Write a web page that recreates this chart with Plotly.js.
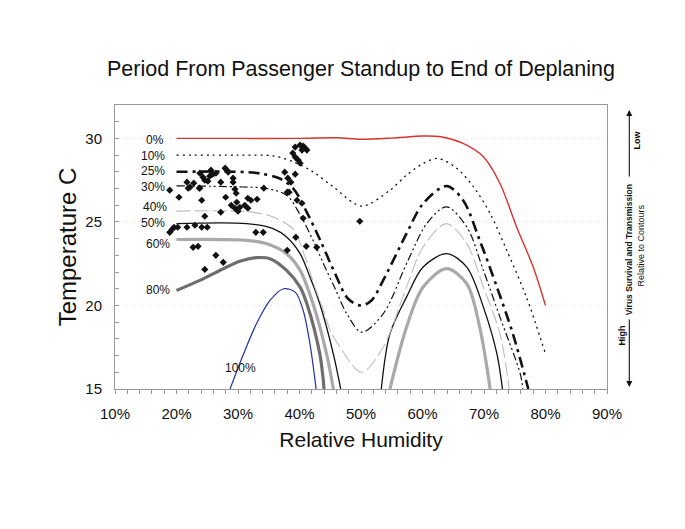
<!DOCTYPE html>
<html>
<head>
<meta charset="utf-8">
<script src="https://cdn.plot.ly/plotly-3.0.1.min.js"></script>
<style>html,body{margin:0;padding:0;background:#fff;}#chart{width:685px;height:529px;}</style>
</head>
<body>
<div id="chart"></div>
<script>
// Contour levels
var levels = ["0%", "10%", "25%", "30%", "40%", "50%", "60%", "80%", "100%"];

// Contour curves (relative humidity %, temperature C)
var rh0   = [20, 30, 40, 46, 50, 55, 60, 63, 66.6, 69.9, 72.6, 75.3, 78, 80];
var t0    = [30.0, 30.0, 30.0, 30.04, 29.95, 30.02, 30.14, 30.1, 29.7, 28.9, 27.3, 24.7, 22.3, 20.0];

var rh10  = [20, 30, 35.7, 39, 42.2, 45.5, 50.1, 54.7, 57.4, 60.1, 62.5, 65.6, 68.3, 71, 73.7, 76.9, 80];
var t10   = [29.0, 29.0, 28.95, 28.6, 28.0, 27.1, 25.95, 26.9, 27.8, 28.5, 28.8, 28.2, 27.1, 25.5, 23.3, 20.5, 17.1];

var rh25  = [20, 30, 33.6, 36.8, 39, 41.3, 43.5, 45.8, 47.9, 50, 51.7, 53.6, 57.4, 60.1, 63.9, 66.6, 69.3, 72.1, 74.7, 77.2];
var t25   = [28.0, 28.0, 27.9, 27.6, 27.0, 25.5, 23.8, 21.9, 20.4, 20.0, 20.3, 21.5, 24.3, 26.1, 27.15, 26.3, 23.9, 21.1, 18.3, 15.0];

var rh30  = [20, 30, 34.7, 37.9, 40, 42.2, 43.9, 45.8, 47.7, 50.1, 53.6, 57.4, 60.7, 63.9, 67.2, 69.9, 72.6, 75.9, 76.3];
var t30   = [27.16, 27.1, 27.0, 26.6, 25.5, 23.9, 22.5, 21.0, 19.5, 18.4, 19.5, 22.5, 24.9, 25.9, 24.7, 22.1, 19.3, 15.9, 15.0];

var rh40  = [20, 32, 35.7, 39, 40.9, 42.5, 43.9, 45, 46.6, 50.1, 53.6, 57.4, 60.1, 63.9, 67.2, 69.9, 72.6, 74.1];
var t40   = [25.65, 25.6, 25.3, 24.55, 22.9, 21.1, 19.7, 18.5, 17.5, 16.0, 17.5, 21.1, 23.5, 24.9, 23.7, 21.1, 18.3, 15.0];

var rh50  = [20, 31.4, 35.7, 37.9, 40.1, 41.7, 43.3, 45.5, 46.7];
var t50   = [24.9, 24.9, 24.6, 24.1, 23.1, 21.7, 20.1, 17.1, 15.0];
var rh50b = [53.3, 54.7, 57.4, 60.1, 63.9, 67.2, 69.9, 72.1, 73.0];
var t50b  = [15.0, 18.3, 20.5, 22.3, 23.1, 22.3, 19.9, 17.1, 15.0];

var rh60  = [20, 31.4, 34.7, 37.9, 40.1, 42.2, 44.4, 45.5];
var t60   = [23.95, 23.9, 23.7, 23.1, 22.1, 20.1, 17.1, 15.0];
var rh60b = [54.7, 57.4, 60.1, 63.9, 67.2, 69.3, 71.0];
var t60b  = [15.0, 18.7, 21.1, 22.2, 21.3, 18.7, 15.0];

var rh80  = [20, 23.8, 27.6, 30.3, 33.0, 35.2, 37.9, 40.1, 41.2, 43.3, 44.0];
var t80   = [20.9, 21.5, 22.2, 22.65, 22.86, 22.8, 22.1, 21.1, 20.1, 17.1, 15.0];

var rh100 = [28.7, 30.9, 33.0, 35.2, 37.4, 39.3, 40.6, 41.7, 42.7];
var t100  = [15.0, 17.1, 18.9, 20.3, 21.0, 20.8, 19.7, 17.7, 15.0];

// Observed points (relative humidity %, temperature C)
var obsRH = [18.9, 20.4, 21.7, 21.9, 22.8, 23.7, 23.8, 24.1, 24.3, 24.6, 25.1, 25.4, 25.9, 26.4, 24.6, 27.2,
             27.9, 28.2, 28.4, 29.2, 29.2, 29.5, 29.7, 28.0, 28.9, 29.8, 29.5, 30.0, 30.3, 31.1, 31.6, 32.1,
             33.1, 31.6, 27.2, 18.9, 19.3, 19.6, 20.2, 21.7, 23.0, 24.1, 25.0, 22.7, 23.5, 26.4, 27.6, 24.6,
             32.9, 34.1, 34.2, 37.6, 38.1, 38.6, 39.3, 38.0, 38.3, 38.9, 39.3, 39.8, 40.1, 39.3, 40.1, 40.6,
             40.9, 41.2, 40.4, 39.6, 40.4, 40.6, 39.4, 41.1, 42.8, 38.0, 49.8, 22.2, 25.6, 23.8];
var obsT  = [26.9, 26.48, 27.38, 27.02, 27.32, 27.02, 27.92, 26.3, 27.68, 27.5, 27.44, 27.74, 27.86, 27.92, 25.34, 27.38,
             28.22, 28.1, 27.98, 27.62, 27.38, 26.96, 26.72, 26.48, 26.0, 26.18, 25.82, 25.64, 25.88, 26.0, 26.42, 26.3,
             26.36, 25.82, 25.58, 24.38, 24.56, 24.68, 24.68, 24.68, 24.8, 24.68, 24.68, 23.48, 23.54, 23.0, 22.58, 22.16,
             24.38, 24.38, 27.02, 27.98, 27.62, 27.38, 27.86, 26.78, 26.78, 29.12, 28.88, 28.7, 28.52, 29.48, 29.6, 29.54,
             29.42, 29.3, 29.3, 26.3, 26.12, 25.22, 24.08, 23.54, 23.48, 23.3, 25.04, 27.08, 28.1, 27.02];

function curve(x, y, color, width, dash) {
  return {x: x, y: y, type: 'scatter', mode: 'lines', hoverinfo: 'skip',
          line: {color: color, width: width, dash: dash, shape: 'spline', smoothing: 0.9}};
}

var traces = [
  curve(rh80, t80, '#6e6e6e', 3.2, 'solid'),
  curve(rh60, t60, '#a9a9a9', 3.2, 'solid'),
  curve(rh60b, t60b, '#a9a9a9', 3.2, 'solid'),
  curve(rh50, t50, '#111111', 1.3, 'solid'),
  curve(rh50b, t50b, '#111111', 1.3, 'solid'),
  curve(rh40, t40, '#bdbdbd', 1.1, '14px,4px'),
  curve(rh30, t30, '#111111', 1.2, '8px,3px,2px,3px,2px,3px'),
  curve(rh25, t25, '#111111', 2.6, '11px,5px,3px,5px'),
  curve(rh10, t10, '#111111', 1.3, '2px,4px'),
  curve(rh0, t0, '#d7342b', 1.4, 'solid'),
  curve(rh100, t100, '#2430a8', 1.2, 'solid'),
  {x: obsRH, y: obsT, type: 'scatter', mode: 'markers', hoverinfo: 'skip',
   marker: {symbol: 'diamond', size: 5.5, color: '#111111'}}
];

function px2x(p) { return (p - 115) / 492; }
function py2y(p) { return (389 - p) / 284; }

var fontFam = 'Liberation Sans, Arial, sans-serif';
var labelPos = [[155, 140], [153.3, 155.7], [153.3, 171], [153.3, 187.3], [155, 207.3],
                [153.3, 222.7], [158.3, 244], [158.3, 290], [240, 367.7]];
var annotations = levels.map(function (t, i) {
  return {text: t, xref: 'paper', yref: 'paper', x: px2x(labelPos[i][0]), y: py2y(labelPos[i][1]),
          xanchor: 'center', yanchor: 'middle', showarrow: false,
          font: {family: fontFam, size: 12, color: '#111'}};
});
annotations.push(
  {text: '<b>Virus Survival and Transmission</b>', xref: 'paper', yref: 'paper', x: px2x(629.3), y: py2y(250),
   textangle: -90, showarrow: false, xanchor: 'center', yanchor: 'middle',
   font: {family: fontFam, size: 8.5, color: '#111'}},
  {text: 'Relative to Contours', xref: 'paper', yref: 'paper', x: px2x(640.5), y: py2y(246),
   textangle: -90, showarrow: false, xanchor: 'center', yanchor: 'middle',
   font: {family: fontFam, size: 9, color: '#111'}},
  {text: '<b>High</b>', xref: 'paper', yref: 'paper', x: px2x(621.5), y: py2y(336),
   textangle: -90, showarrow: false, xanchor: 'center', yanchor: 'middle',
   font: {family: fontFam, size: 9, color: '#111'}},
  {text: '<b>Low</b>', xref: 'paper', yref: 'paper', x: px2x(636.5), y: py2y(140),
   textangle: -90, showarrow: false, xanchor: 'center', yanchor: 'middle',
   font: {family: fontFam, size: 9, color: '#111'}},
  {text: '', xref: 'paper', yref: 'paper', x: px2x(629.3), y: py2y(110), ax: 0, ay: 68,
   showarrow: true, arrowhead: 2, arrowsize: 1.1, arrowwidth: 1.1, arrowcolor: '#111', standoff: 0},
  {text: '', xref: 'paper', yref: 'paper', x: px2x(629.3), y: py2y(387), ax: 0, ay: -69,
   showarrow: true, arrowhead: 2, arrowsize: 1.1, arrowwidth: 1.1, arrowcolor: '#111', standoff: 0}
);

var layout = {
  width: 685, height: 529,
  margin: {l: 115, r: 78, t: 105, b: 140},
  paper_bgcolor: '#ffffff', plot_bgcolor: '#ffffff',
  showlegend: false,
  font: {family: fontFam, color: '#111'},
  title: {text: 'Period From Passenger Standup to End of Deplaning', xref: 'paper', x: 0.5,
          y: 1 - 68 / 529, yanchor: 'middle', font: {family: fontFam, size: 21.5, color: '#111'}},
  xaxis: {
    range: [10, 90], dtick: 10, tick0: 10, ticksuffix: '%', showgrid: false, zeroline: false,
    ticks: 'outside', ticklen: 4, tickcolor: '#999', ticklabelstandoff: 7,
    minor: {dtick: 2, ticks: 'outside', ticklen: 4, tickcolor: '#999'},
    showline: true, linecolor: '#999', linewidth: 1, mirror: true,
    tickfont: {family: fontFam, size: 15, color: '#111'},
    title: {text: 'Relative Humidity', standoff: 11, font: {family: fontFam, size: 21, color: '#111'}}
  },
  yaxis: {
    range: [15, 32], dtick: 5, tick0: 15, zeroline: false,
    showgrid: true, gridcolor: '#e2e2e2', griddash: '1px,3px', gridwidth: 1,
    ticks: 'inside', ticklen: 4, tickcolor: '#999', ticklabelstandoff: 9,
    minor: {dtick: 1, ticks: 'inside', ticklen: 4, tickcolor: '#999', showgrid: false},
    showline: true, linecolor: '#999', linewidth: 1, mirror: true,
    tickfont: {family: fontFam, size: 15, color: '#111'},
    title: {text: 'Temperature C', standoff: 1, font: {family: fontFam, size: 24, color: '#111'}}
  },
  annotations: annotations
};

Plotly.newPlot('chart', traces, layout, {displayModeBar: false, staticPlot: true});
</script>
</body>
</html>
